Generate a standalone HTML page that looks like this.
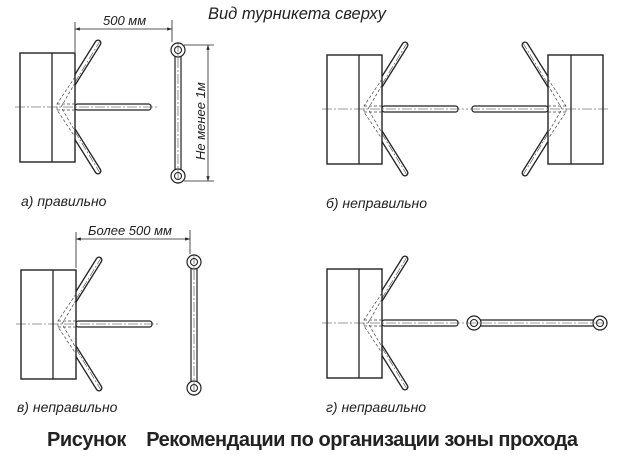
<!DOCTYPE html>
<html><head><meta charset="utf-8"><style>
html,body{margin:0;padding:0;background:#fff;width:624px;height:458px;overflow:hidden}
svg text{font-family:"Liberation Sans",sans-serif;font-style:italic;fill:#222}
</style></head><body>
<svg width="624" height="458" viewBox="0 0 624 458" xmlns="http://www.w3.org/2000/svg">
<defs>
<marker id="ar" viewBox="0 0 10 10" refX="10" refY="5" markerWidth="8" markerHeight="6" orient="auto-start-reverse"><path d="M0,1.5 L10,5 L0,8.5 z" fill="#222"/></marker>
<g id="ts">
  <path d="M38,0 L78,-64 M38,0 L78,64" stroke="#222" stroke-width="7" fill="none" stroke-linecap="round"/>
  <path d="M38,0 L78,-64 M38,0 L78,64" stroke="#fff" stroke-width="4.4" fill="none" stroke-linecap="round"/>
  <path d="M40,0 L80,-66 M40,0 L80,66" stroke="#444" stroke-width="0.6" stroke-dasharray="8,2,2,2" fill="none"/>
  <rect x="0" y="-54" width="55" height="109" fill="#fff" stroke="#222" stroke-width="1.4"/>
  <line x1="32" y1="-54" x2="32" y2="55" stroke="#222" stroke-width="1.3"/>
  <path d="M55,-30 L37,-3 L37,3 L55,30 M55,-24 L41,0 L55,24" stroke="#444" stroke-width="0.7" stroke-dasharray="3,2" fill="none"/>
  <path d="M37,-3 L55,-3 M37,3 L55,3" stroke="#444" stroke-width="0.7" stroke-dasharray="3,2"/>
  <rect x="55" y="-3" width="76" height="6" rx="2.5" fill="#fff" stroke="#222" stroke-width="1.2"/>
  <line x1="-5" y1="0" x2="137" y2="0" stroke="#333" stroke-width="0.6" stroke-dasharray="10,2,2,2"/>
</g>
<g id="pole">
  <line x1="-3" y1="0" x2="-3" y2="126" stroke="#222" stroke-width="1.2"/>
  <line x1="3" y1="0" x2="3" y2="126" stroke="#222" stroke-width="1.2"/>
  <circle cx="0" cy="0" r="7" fill="#fff" stroke="#222" stroke-width="1.2"/>
  <circle cx="0" cy="0" r="3.5" fill="none" stroke="#222" stroke-width="1.1"/>
  <circle cx="0" cy="126" r="7" fill="#fff" stroke="#222" stroke-width="1.2"/>
  <circle cx="0" cy="126" r="3.5" fill="none" stroke="#222" stroke-width="1.1"/>
  <line x1="0" y1="-8" x2="0" y2="134" stroke="#444" stroke-width="0.6" stroke-dasharray="10,2,2,2"/>
</g>
</defs>

<text x="208" y="19" font-size="16.5">Вид турникета сверху</text>

<use href="#ts" x="20" y="107"/>
<use href="#pole" x="178" y="50"/>
<line x1="75" y1="22" x2="75" y2="52" stroke="#222" stroke-width="0.8"/>
<line x1="172" y1="20" x2="172" y2="42" stroke="#222" stroke-width="0.8"/>
<line x1="75" y1="29" x2="172" y2="29" stroke="#222" stroke-width="0.8" marker-start="url(#ar)" marker-end="url(#ar)"/>
<text x="103" y="25" font-size="13">500 мм</text>
<line x1="184" y1="45" x2="214" y2="45" stroke="#222" stroke-width="0.8"/>
<line x1="184" y1="181" x2="214" y2="181" stroke="#222" stroke-width="0.8"/>
<line x1="208" y1="45" x2="208" y2="181" stroke="#222" stroke-width="0.8" marker-start="url(#ar)" marker-end="url(#ar)"/>
<text transform="translate(205,160) rotate(-90)" font-size="13">Не менее 1м</text>
<text x="21" y="206" font-size="14">а) правильно</text>

<use href="#ts" x="327" y="109"/>
<g transform="translate(603,109) scale(-1,1)"><use href="#ts"/></g>
<text x="326" y="208" font-size="14">б) неправильно</text>

<use href="#ts" x="21" y="324"/>
<use href="#pole" x="194" y="262"/>
<line x1="76" y1="232" x2="76" y2="268" stroke="#222" stroke-width="0.8"/>
<line x1="190" y1="230" x2="190" y2="254" stroke="#222" stroke-width="0.8"/>
<line x1="76" y1="239" x2="190" y2="239" stroke="#222" stroke-width="0.8" marker-start="url(#ar)" marker-end="url(#ar)"/>
<text x="88" y="235" font-size="13">Более 500 мм</text>
<text x="17" y="412" font-size="14">в) неправильно</text>

<use href="#ts" x="327" y="323"/>
<g transform="translate(474,323) rotate(-90)"><use href="#pole"/></g>
<text x="326" y="412" font-size="14">г) неправильно</text>

<text x="47" y="446" font-size="20" font-weight="bold" style="font-style:normal" fill="#111" textLength="531" lengthAdjust="spacing">Рисунок&#160;&#160;&#160; Рекомендации по организации зоны прохода</text>
</svg>
</body></html>
